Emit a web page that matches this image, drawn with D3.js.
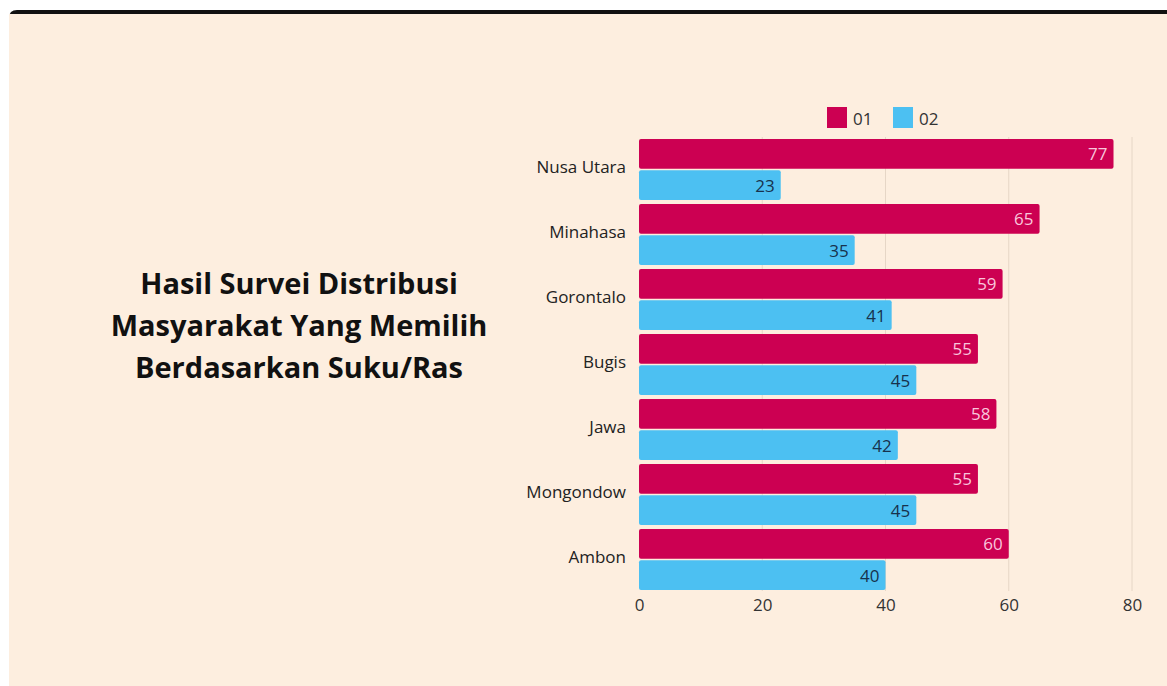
<!DOCTYPE html>
<html>
<head>
<meta charset="utf-8">
<script src="https://cdn.jsdelivr.net/npm/d3@7.9.0/dist/d3.min.js"></script>
<style>
  body { margin: 0; background: #fff; }
  svg { display: block; font-family: "Open Sans", "Noto Sans", sans-serif; }
</style>
</head>
<body>
<svg id="chart" width="1167" height="686"></svg>
<script>
// data
const categories = ['Nusa Utara', 'Minahasa', 'Gorontalo', 'Bugis', 'Jawa', 'Mongondow', 'Ambon'];
const seriesNames = ['01', '02'];
const values01 = [77, 65, 59, 55, 58, 55, 60];
const values02 = [23, 35, 41, 45, 42, 45, 40];
const xTicks = [0, 20, 40, 60, 80];
const titleLines = ['Hasil Survei Distribusi', 'Masyarakat Yang Memilih', 'Berdasarkan Suku/Ras'];

const font = '"Open Sans", "Noto Sans", sans-serif';
const colors = { '01': '#cc0052', '02': '#4cc0f2' };
const labelColors = { '01': '#f9c6dc', '02': '#17324d' };

const svg = d3.select('#chart');

// cream panel with black top edge
svg.append('path')
  .attr('d', 'M9,18 Q9,10 17,10 L1167,10 L1167,686 L9,686 Z')
  .attr('fill', '#111');
svg.append('rect')
  .attr('x', 9).attr('y', 14)
  .attr('width', 1158).attr('height', 672)
  .attr('fill', '#fdeedf');

// title
svg.append('g')
  .selectAll('text')
  .data(titleLines)
  .join('text')
  .attr('x', 299)
  .attr('y', (d, i) => 282 + i * 42)
  .attr('text-anchor', 'middle')
  .attr('dominant-baseline', 'central')
  .attr('font-size', 29)
  .attr('font-weight', 700)
  .attr('fill', '#111')
  .text(d => d);

// scales
const x = d3.scaleLinear().domain([0, 80]).range([639, 1132]);
const y = d3.scaleBand().domain(categories).range([137, 592]).paddingInner(0.06).paddingOuter(0.03);
const ySub = d3.scaleBand().domain(seriesNames).range([0, y.bandwidth()]).paddingInner(0.05);

// grid lines
svg.append('g')
  .selectAll('line')
  .data(xTicks.filter(t => t > 0))
  .join('line')
  .attr('x1', d => x(d)).attr('x2', d => x(d))
  .attr('y1', 137).attr('y2', 591)
  .attr('stroke', '#e6d6c6')
  .attr('stroke-width', 1);

// rows: one entry per bar
const rows = [];
categories.forEach((c, i) => {
  rows.push({ cat: c, s: '01', v: values01[i] });
  rows.push({ cat: c, s: '02', v: values02[i] });
});

svg.append('g')
  .selectAll('rect')
  .data(rows)
  .join('rect')
  .attr('x', x(0))
  .attr('y', d => y(d.cat) + ySub(d.s))
  .attr('width', d => x(d.v) - x(0))
  .attr('height', ySub.bandwidth())
  .attr('rx', 2)
  .attr('fill', d => colors[d.s]);

svg.append('g')
  .selectAll('text')
  .data(rows)
  .join('text')
  .attr('x', d => x(d.v) - 6)
  .attr('y', d => y(d.cat) + ySub(d.s) + ySub.bandwidth() / 2)
  .attr('text-anchor', 'end')
  .attr('dominant-baseline', 'central')
  .attr('font-size', 17)
  .attr('fill', d => labelColors[d.s])
  .text(d => d.v);

// axes
const xAxis = svg.append('g')
  .attr('transform', 'translate(0,592)')
  .attr('font-family', font)
  .call(d3.axisBottom(x).tickValues(xTicks).tickSize(0).tickPadding(7))
  .attr('font-family', font)
  .attr('font-size', 17);
xAxis.select('.domain').remove();
xAxis.selectAll('text').attr('fill', '#333');

const yAxis = svg.append('g')
  .attr('transform', `translate(${x(0)},0)`)
  .call(d3.axisLeft(y).tickSize(0).tickPadding(13))
  .attr('font-family', font)
  .attr('font-size', 17);
yAxis.select('.domain').remove();
yAxis.selectAll('text').attr('fill', '#222').attr('dy', '0.2em');

// legend
const legend = svg.append('g')
  .selectAll('g')
  .data(seriesNames)
  .join('g')
  .attr('transform', (d, i) => `translate(${827 + i * 66},107)`);
legend.append('rect')
  .attr('width', 20).attr('height', 21)
  .attr('fill', d => colors[d]);
legend.append('text')
  .attr('x', 26).attr('y', 11)
  .attr('dominant-baseline', 'central')
  .attr('font-size', 17)
  .attr('fill', '#333')
  .text(d => d);
</script>
</body>
</html>
